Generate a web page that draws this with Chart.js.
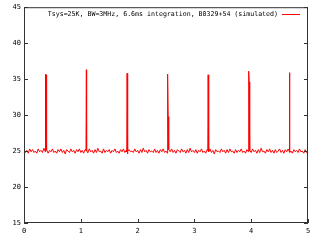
<!DOCTYPE html>
<html>
<head>
<meta charset="utf-8">
<script src="https://cdn.jsdelivr.net/npm/chart.js@4/dist/chart.umd.min.js"></script>
<style>
  html,body{margin:0;padding:0;background:#fff;}
  #wrap{width:320px;height:240px;}
</style>
</head>
<body>
<div id="wrap"><canvas id="c" width="320" height="240"></canvas></div>
<script>
// baseline samples, one every 0.025 s from 0 to 5 s
const SAMPLE_DT = 0.025;
const noise = [
  25.2,24.8,25.1,24.7,25.3,24.9,25.2,24.8,25.0,24.7,25.3,24.9,25.1,24.8,25.4,24.9,25.2,24.7,25.1,24.9,
  25.3,24.8,25.0,24.7,25.2,24.9,25.3,24.8,25.1,24.6,25.2,25.0,24.8,25.3,24.9,25.1,24.7,25.2,24.9,25.3,
  24.8,25.1,24.7,25.2,25.0,24.8,25.3,24.9,25.1,24.7,25.2,24.8,25.4,24.9,25.0,24.7,25.3,24.8,25.1,24.9,
  25.2,24.7,25.1,24.9,25.3,24.8,25.0,24.7,25.2,24.9,25.3,24.8,25.1,24.6,25.2,24.9,25.0,24.8,25.3,24.9,
  25.1,24.7,25.2,24.8,25.4,24.9,25.1,24.7,25.2,24.9,25.0,24.8,25.3,24.8,25.1,24.7,25.2,24.9,25.3,24.8,
  25.0,24.7,25.2,24.9,25.3,24.8,25.1,24.7,25.2,25.0,24.8,25.3,24.9,25.1,24.7,25.2,24.8,25.4,24.9,25.1,
  24.8,25.2,24.7,25.1,24.9,25.3,24.8,25.0,24.7,25.2,24.9,25.3,24.8,25.1,24.6,25.2,24.9,25.0,24.8,25.3,
  24.9,25.1,24.7,25.2,24.8,25.3,24.9,25.0,24.7,25.2,24.8,25.1,24.9,25.3,24.8,25.0,24.7,25.2,24.9,25.1,
  24.8,25.3,24.9,25.1,24.7,25.2,24.8,25.4,24.9,25.0,24.7,25.2,24.9,25.3,24.8,25.1,24.7,25.2,24.8,25.0,
  25.3,24.8,25.1,24.7,25.2,24.9,25.3,24.8,25.0,24.7,25.2,24.9,25.1,24.8,25.3,24.9,25.0,24.7,25.2,24.8,25.0
];

// pulses (B0329+54, P ~ 0.714 s): sample before, peak, sample after, next sample
const PULSE_DT = 0.0066;
const pulseTimes  = [0.382, 1.098, 1.815, 2.532, 3.242, 3.959, 4.675];
const pulsePre    = [25.0, 25.1, 24.9, 25.0, 25.1, 24.9, 25.0];
const pulsePeaks  = [35.7, 36.3, 35.8, 35.7, 35.6, 36.1, 35.9];
const pulseSecond = [35.6, 25.2, 33.2, 29.8, 33.0, 34.6, 25.1];
const pulsePost   = [25.1, 24.9, 25.0, 25.2, 24.9, 25.0, 24.9];

const xTicks = [0, 1, 2, 3, 4, 5];
const yTicks = [15, 20, 25, 30, 35, 40, 45];
const legendText = 'Tsys=25K, BW=3MHz, 6.6ms integration, B0329+54 (simulated)';

// build point list
let pts = noise.map((v, i) => ({x: i * SAMPLE_DT, y: v}));
pulseTimes.forEach((t, i) => {
  pts.push({x: t - PULSE_DT, y: pulsePre[i]});
  pts.push({x: t, y: pulsePeaks[i]});
  pts.push({x: t + PULSE_DT, y: pulseSecond[i]});
  pts.push({x: t + 2 * PULSE_DT, y: pulsePost[i]});
});
pts.sort((a, b) => a.x - b.x);

const FONT = 'DejaVu Sans Mono';

// gnuplot style frame: border box, inward ticks, key text top right
const frame = {
  id: 'frame',
  afterDatasetsDraw(chart){
    const {ctx, chartArea: a, scales} = chart;
    ctx.save();
    ctx.strokeStyle = '#333';
    ctx.lineWidth = 1;
    ctx.strokeRect(a.left + 0.5, a.top + 0.5, a.right - a.left - 1, a.bottom - a.top - 1);
    ctx.beginPath();
    yTicks.forEach(v => {
      const y = Math.round(scales.y.getPixelForValue(v)) + 0.5;
      ctx.moveTo(a.left, y); ctx.lineTo(a.left + 4, y);
      ctx.moveTo(a.right, y); ctx.lineTo(a.right - 4, y);
    });
    xTicks.forEach(v => {
      const x = Math.round(scales.x.getPixelForValue(v)) + 0.5;
      ctx.moveTo(x, a.bottom); ctx.lineTo(x, a.bottom - 4);
    });
    ctx.stroke();

    // key
    ctx.font = '6.6px "' + FONT + '"';
    ctx.fillStyle = '#000';
    ctx.textAlign = 'right';
    ctx.textBaseline = 'middle';
    ctx.fillText(legendText, a.right - 30, 14);
    ctx.strokeStyle = '#ff0000';
    ctx.beginPath();
    ctx.moveTo(a.right - 26, 14.5);
    ctx.lineTo(a.right - 8, 14.5);
    ctx.stroke();
    ctx.restore();
  }
};

new Chart(document.getElementById('c'), {
  type: 'line',
  data: {
    datasets: [{
      data: pts,
      borderColor: '#ff0000',
      borderWidth: 1,
      pointRadius: 0,
      tension: 0,
      fill: false
    }]
  },
  options: {
    responsive: false,
    animation: false,
    events: [],
    layout: {padding: {top: 7, right: 12, left: 0, bottom: 0}},
    plugins: {legend: {display: false}, tooltip: {enabled: false}},
    scales: {
      x: {
        type: 'linear', min: 0, max: 5,
        afterBuildTicks: s => { s.ticks = xTicks.map(v => ({value: v})); },
        afterFit: s => { s.height = 17; },
        grid: {display: false, drawTicks: false},
        border: {display: false},
        ticks: {padding: 4, color: '#000', font: {family: FONT, size: 7}, maxRotation: 0}
      },
      y: {
        type: 'linear', min: 15, max: 45,
        afterBuildTicks: s => { s.ticks = yTicks.map(v => ({value: v})); },
        afterFit: s => { s.width = 24; },
        grid: {display: false, drawTicks: false},
        border: {display: false},
        ticks: {padding: 3, color: '#000', font: {family: FONT, size: 7}}
      }
    }
  },
  plugins: [frame]
});
</script>
</body>
</html>
